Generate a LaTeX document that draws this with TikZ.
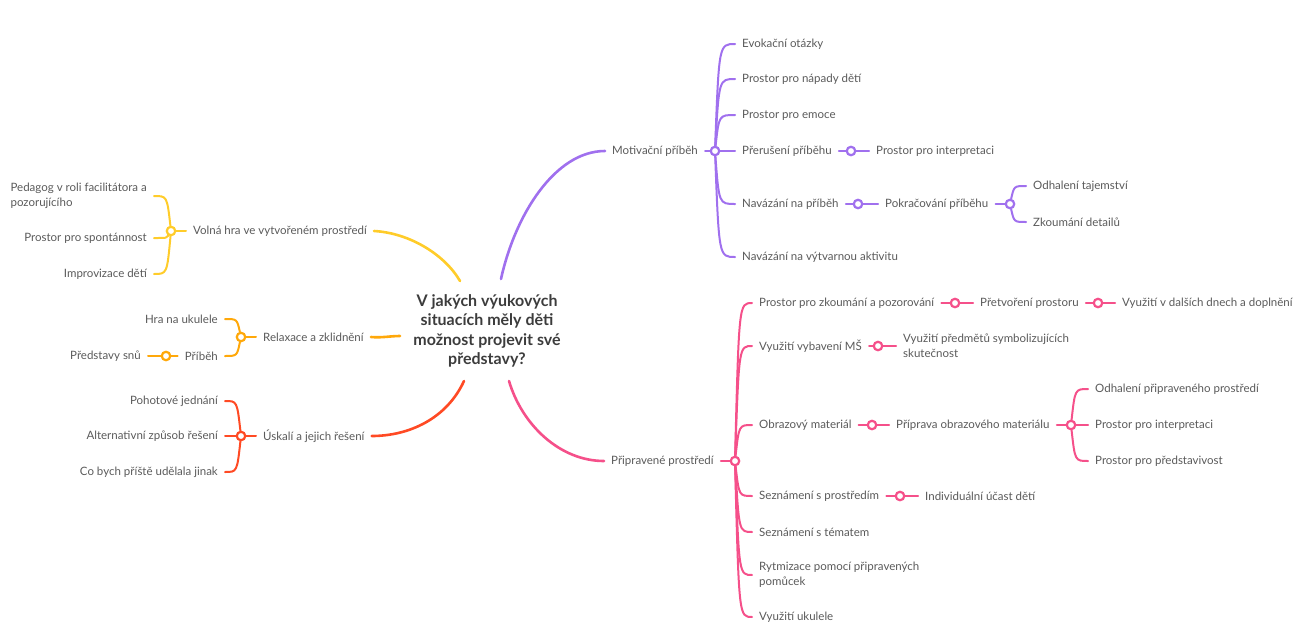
\documentclass[tikz,border=0pt]{standalone}
\usepackage{fontspec}
\setmainfont{Lato}
\usetikzlibrary{calc}
\definecolor{txt}{HTML}{5A5A5A}
\definecolor{ttl}{HTML}{3C3C3C}
\definecolor{cPur}{HTML}{A070EE}
\definecolor{cPink}{HTML}{F5508A}
\definecolor{cRed}{HTML}{FF4A24}
\definecolor{cOra}{HTML}{FFA80A}
\definecolor{cYel}{HTML}{FFCC2A}
\begin{document}
\begin{tikzpicture}[x=1pt,y=-1pt,
  lab/.style={font=\fontsize{11.5}{15}\selectfont, text=txt, inner xsep=7pt, inner ysep=1pt, align=left},
  R/.style={lab, anchor=west},
  L/.style={lab, anchor=east},
  hub/.style={circle, draw=#1, fill=white, line width=2.2pt, minimum size=8.5pt, inner sep=0pt},
  br/.style={draw=#1, line width=2pt, line cap=round},
  trunk/.style={draw=#1, line width=2.6pt, line cap=round},
  bR/.style={to path={.. controls ($(\tikztostart |- \tikztotarget)+(4,0)$) and ($(\tikztostart |- \tikztotarget)+(4,0)$) .. (\tikztotarget)}},
  bL/.style={to path={.. controls ($(\tikztostart |- \tikztotarget)+(-4,0)$) and ($(\tikztostart |- \tikztotarget)+(-4,0)$) .. (\tikztotarget)}},
]
\useasboundingbox (0,0) rectangle (1304,643);

% central topic
\node[font=\fontsize{16}{19.3}\selectfont\bfseries, text=ttl, align=center] (root) at (487,331)
  {V jakých výukových\\situacích měly děti\\možnost projevit své\\představy?};
\coordinate (sP) at (501,279);
\coordinate (sK) at (509,381);
\coordinate (sY) at (460,281);
\coordinate (sO) at (400,336);
\coordinate (sR) at (464,381);

% ---------- Motivační příběh ----------
\node[R] (mot) at (605,151) {Motivační příběh};
\node[hub=cPur] (cm) at (715,151) {};
\node[R] (p1) at (735,44) {Evokační otázky};
\node[R] (p2) at (735,79) {Prostor pro nápady dětí};
\node[R] (p3) at (735,115) {Prostor pro emoce};
\node[R] (p4) at (735,151) {Přerušení příběhu};
\node[hub=cPur] (cm4) at (851,151) {};
\node[R] (p41) at (869,151) {Prostor pro interpretaci};
\node[R] (p5) at (735,204) {Navázání na příběh};
\node[hub=cPur] (cm5) at (858,204) {};
\node[R] (p51) at (878,204) {Pokračování příběhu};
\node[hub=cPur] (cm51) at (1010,204) {};
\node[R] (p511) at (1026,186) {Odhalení tajemství};
\node[R] (p512) at (1026,222) {Zkoumání detailů};
\node[R] (p6) at (735,257) {Navázání na výtvarnou aktivitu};

\draw[trunk=cPur] (sP) .. controls (515,215) and (555,151) .. (mot.west);
\draw[br=cPur] (mot) -- (cm);
\foreach \t in {p1,p2,p3,p4,p5,p6} \draw[br=cPur] (cm) to[bR] (\t.west);
\draw[br=cPur] (p4) -- (cm4) -- (p41);
\draw[br=cPur] (p5) -- (cm5) -- (p51) -- (cm51);
\foreach \t in {p511,p512} \draw[br=cPur] (cm51) to[bR] (\t.west);

% ---------- Připravené prostředí ----------
\node[R] (pre) at (604,461) {Připravené prostředí};
\node[hub=cPink] (ck) at (735,461) {};
\node[R] (k1) at (752,303) {Prostor pro zkoumání a pozorování};
\node[hub=cPink] (ck1) at (955,303) {};
\node[R] (k11) at (973,303) {Přetvoření prostoru};
\node[hub=cPink] (ck11) at (1098,303) {};
\node[R] (k111) at (1115,303) {Využití v dalších dnech a doplnění};
\node[R] (k2) at (752,346) {Využití vybavení MŠ};
\node[hub=cPink] (ck2) at (878,346) {};
\node[R] (k21) at (896,346) {Využití předmětů symbolizujících\\skutečnost};
\node[R] (k3) at (752,425) {Obrazový materiál};
\node[hub=cPink] (ck3) at (872,425) {};
\node[R] (k31) at (889,425) {Příprava obrazového materiálu};
\node[hub=cPink] (ck31) at (1071,425) {};
\node[R] (k311) at (1088,389) {Odhalení připraveného prostředí};
\node[R] (k312) at (1088,425) {Prostor pro interpretaci};
\node[R] (k313) at (1088,461) {Prostor pro představivost};
\node[R] (k4) at (752,496) {Seznámení s prostředím};
\node[hub=cPink] (ck4) at (900,496) {};
\node[R] (k41) at (918,496) {Individuální účast dětí};
\node[R] (k5) at (752,532) {Seznámení s tématem};
\node[R] (k6) at (752,575) {Rytmizace pomocí připravených\\pomůcek};
\node[R] (k7) at (752,617) {Využití ukulele};

\draw[trunk=cPink] (sK) .. controls (522,425) and (560,461) .. (pre.west);
\draw[br=cPink] (pre) -- (ck);
\foreach \t in {k1,k2,k3,k4,k5,k6,k7} \draw[br=cPink] (ck) to[bR] (\t.west);
\draw[br=cPink] (k1) -- (ck1) -- (k11) -- (ck11) -- (k111);
\draw[br=cPink] (k2) -- (ck2) -- (k21);
\draw[br=cPink] (k3) -- (ck3) -- (k31) -- (ck31);
\foreach \t in {k311,k312,k313} \draw[br=cPink] (ck31) to[bR] (\t.west);
\draw[br=cPink] (k4) -- (ck4) -- (k41);

% ---------- Volná hra ----------
\node[R] (vol) at (186,231) {Volná hra ve vytvořeném prostředí};
\node[hub=cYel] (cy) at (171,231) {};
\node[L] (y1) at (154,196) {Pedagog v roli facilitátora a\\pozorujícího};
\node[L] (y2) at (154,238) {Prostor pro spontánnost};
\node[L] (y3) at (154,274) {Improvizace dětí};

\draw[trunk=cYel] (sY) .. controls (445,255) and (410,233) .. (vol.east);
\draw[br=cYel] (vol) -- (cy);
\foreach \t in {y1,y2,y3} \draw[br=cYel] (cy) to[bL] (\t.east);

% ---------- Relaxace ----------
\node[R] (rel) at (256,337) {Relaxace a zklidnění};
\node[hub=cOra] (co) at (241,337) {};
\node[L] (o1) at (225,319) {Hra na ukulele};
\node[L] (o2) at (225,356) {Příběh};
\node[hub=cOra] (co2) at (166,356) {};
\node[L] (o21) at (148,356) {Představy snů};

\draw[trunk=cOra] (sO) .. controls (390,336) and (382,338) .. (rel.east);
\draw[br=cOra] (rel) -- (co);
\foreach \t in {o1,o2} \draw[br=cOra] (co) to[bL] (\t.east);
\draw[br=cOra] (o2) -- (co2) -- (o21);

% ---------- Úskalí ----------
\node[R] (usk) at (256,436) {Úskalí a jejich řešení};
\node[hub=cRed] (cr) at (241,436) {};
\node[L] (r1) at (225,401) {Pohotové jednání};
\node[L] (r2) at (225,436) {Alternativní způsob řešení};
\node[L] (r3) at (225,472) {Co bych příště udělala jinak};

\draw[trunk=cRed] (sR) .. controls (447,418) and (410,436) .. (usk.east);
\draw[br=cRed] (usk) -- (cr);
\foreach \t in {r1,r2,r3} \draw[br=cRed] (cr) to[bL] (\t.east);
\end{tikzpicture}
\end{document}
